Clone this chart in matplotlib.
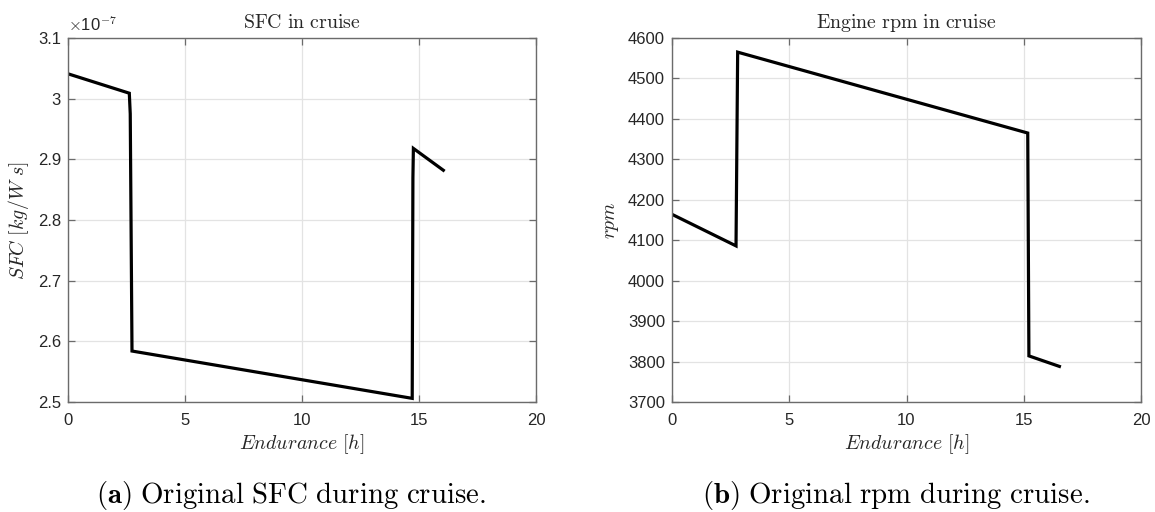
import matplotlib
matplotlib.use("Agg")
import matplotlib.pyplot as plt
from matplotlib.ticker import FuncFormatter
import numpy as np

# Data
sfc_time = [0.0, 2.62, 2.66, 2.735, 14.71, 14.74, 14.76, 16.04]
sfc_vals = [3.041e-7, 3.009e-7, 2.975e-7, 2.584e-7, 2.506e-7, 2.870e-7, 2.918e-7, 2.882e-7]

rpm_time = [0.0, 2.73, 2.80, 15.17, 15.22, 16.52]
rpm_vals = [4164, 4086, 4565, 4365, 3814, 3788]

x_ticks = [0, 5, 10, 15, 20]
sfc_ticks = [2.5e-7, 2.6e-7, 2.7e-7, 2.8e-7, 2.9e-7, 3.0e-7, 3.1e-7]
rpm_ticks = [3700, 3800, 3900, 4000, 4100, 4200, 4300, 4400, 4500, 4600]

plt.rcParams['mathtext.fontset'] = 'cm'
plt.rcParams['font.family'] = ['Liberation Sans', 'DejaVu Sans']

fig = plt.figure(figsize=(11.55, 5.12), dpi=100)
ax1 = fig.add_axes([68/1155, 110/512, 468/1155, 364/512])
ax2 = fig.add_axes([672/1155, 110/512, 469/1155, 364/512])

tick_color = '#262626'
spine_color = '#6b6b6b'
lab_fs = 14.3

def style(ax):
    ax.grid(True, color='#e3e3e3', lw=0.9)
    ax.set_axisbelow(True)
    for s in ax.spines.values():
        s.set_color(spine_color)
        s.set_linewidth(1.0)
    ax.tick_params(direction='in', length=5, width=0.9, color=spine_color,
                   top=True, right=True, labelsize=12, labelcolor=tick_color)
    ax.tick_params(axis='x', pad=8)
    ax.tick_params(axis='y', pad=5)
    ax.set_xlim(0, 20)
    ax.set_xticks(x_ticks)
    ax.set_xlabel(r'$Endurance\ [h]$', fontsize=lab_fs, color='#262626', labelpad=3)

ax1.plot(sfc_time, sfc_vals, color='black', lw=2.3, solid_joinstyle='miter')
style(ax1)
ax1.set_ylim(2.5e-7, 3.1e-7)
ax1.set_yticks(sfc_ticks)
ax1.yaxis.set_major_formatter(FuncFormatter(lambda v, p: '%g' % round(v / 1e-7, 6)))
ax1.set_ylabel(r'$SFC\ [kg/W\ s]$', fontsize=lab_fs, color='#262626', labelpad=5)
ax1.set_title(r'$\mathrm{SFC\ in\ cruise}$', fontsize=lab_fs, color='#262626', pad=7)
ax1.text(0.0, 1.012, r'$\times$10$^{-7}$', transform=ax1.transAxes, fontsize=12,
         color=tick_color, ha='left', va='bottom')

ax2.plot(rpm_time, rpm_vals, color='black', lw=2.3, solid_joinstyle='miter')
style(ax2)
ax2.set_ylim(3700, 4600)
ax2.set_yticks(rpm_ticks)
ax2.set_ylabel(r'$rpm$', fontsize=lab_fs, color='#262626', labelpad=5)
ax2.set_title(r'$\mathrm{Engine\ rpm\ in\ cruise}$', fontsize=lab_fs, color='#262626', pad=7)

fig.text(291/1155, 1 - 496/512, r'$\mathbf{(a)}$ $\mathrm{Original\ SFC\ during\ cruise.}$',
         fontsize=20.8, ha='center', va='center', color='black')
fig.text(896/1155, 1 - 496/512, r'$\mathbf{(b)}$ $\mathrm{Original\ rpm\ during\ cruise.}$',
         fontsize=20.8, ha='center', va='center', color='black')

fig.savefig('out.png', dpi=100)
